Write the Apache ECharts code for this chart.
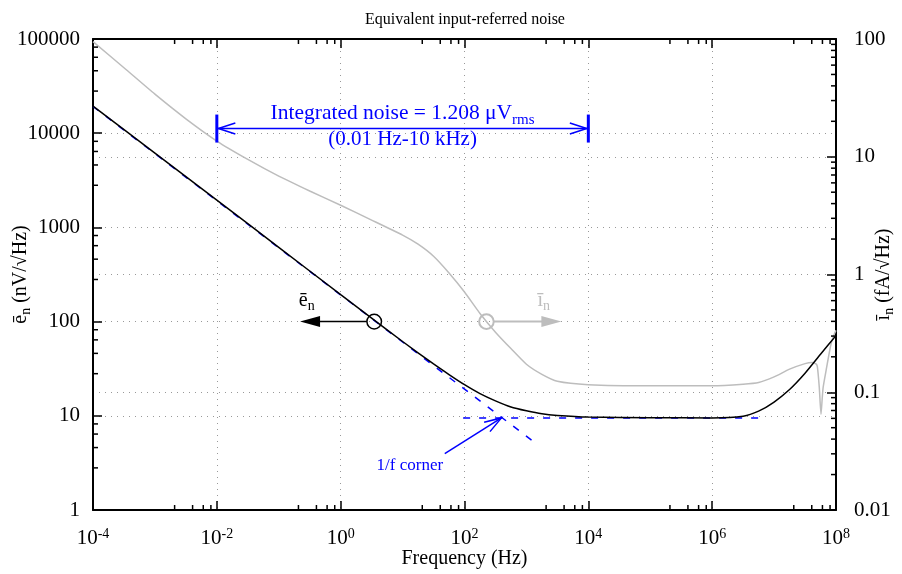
<!DOCTYPE html>
<html>
<head>
<meta charset="utf-8">
<script src="https://cdn.jsdelivr.net/npm/echarts@6/dist/echarts.min.js"></script>
<style>
  html, body { margin: 0; padding: 0; background: #fff; }
  #chart { width: 902px; height: 574px; }
</style>
</head>
<body>
<div id="chart"></div>
<script>
// ---- data ---------------------------------------------------------------
// voltage noise density e_n (nV/√Hz) versus frequency (Hz)
const enFreq = [1e-4, 1e-3, 1e-2, 1e-1, 1, 3.162, 10, 31.62, 56.23, 100, 177.8, 316.2, 562.3,
                1000, 1778, 3162, 1e4, 1e5, 1e6, 3.162e6, 5.623e6, 1e7, 1.778e7, 3.162e7, 5.623e7, 1e8];
const enValue = [19400, 6150, 1950, 615, 193, 109, 61.5, 35.5, 27.4, 21.4, 17.2, 14.4, 12.4,
                 11.3, 10.5, 10.1, 9.7, 9.55, 9.5, 9.9, 11.2, 14.0, 19.0, 28.3, 45, 71];

// current noise density i_n (fA/√Hz) versus frequency (Hz)
const inFreq = [1e-4, 3.162e-4, 1e-3, 3.162e-3, 1e-2, 3.162e-2, 0.1, 0.3162, 1, 3.162, 10, 17.78,
                31.62, 56.23, 100, 177.8, 316.2, 562.3, 1000, 1778, 3162, 1e4, 1e5, 1e6, 3.162e6,
                5.623e6, 1e7, 1.778e7, 3.162e7, 4.1e7, 4.75e7, 5.0e7, 5.37e7, 5.73e7, 6.0e7, 6.2e7,
                6.9e7, 8.3e7, 9.4e7, 1e8];
const inValue = [95, 57, 34, 21, 13.6, 9.5, 6.85, 5.12, 3.87, 2.9, 2.16, 1.81,
                 1.43, 1.03, 0.71, 0.467, 0.324, 0.235, 0.173, 0.142, 0.124, 0.116, 0.1135, 0.1135, 0.117,
                 0.121, 0.135, 0.157, 0.175, 0.179, 0.174, 0.165, 0.11, 0.065, 0.09, 0.11,
                 0.152, 0.257, 0.313, 0.335];

// asymptotes of e_n: 1/f region and white-noise floor
const flickerFreq = [1e-4, 1410];
const flickerValue = [19200, 5.11];
const floorFreq = [95, 7e6];
const floorValue = [9.5, 9.5];

// annotations (frequency in Hz, level on the e_n axis)
const bandRange = [0.01, 1e4];
const bandLevel = 11200;
const bandLabelFreq = 10;
const bandLabelLines = ['Integrated noise = 1.208 μV', 'rms', '(0.01 Hz-10 kHz)'];
const enMarker = [3.48, 100];
const enArrowTip = [0.221, 100];
const enLabelAt = [0.283, 155];
const inMarker = [226, 100];
const inArrowTip = [3670, 100];
const inLabelAt = [1900, 155];
const cornerPoint = [395, 9.5];
const cornerTail = [48, 3.97];
const cornerLabelAt = [13.1, 2.94];
const cornerLabel = '1/f corner';

// axis ranges and names
const xRange = [1e-4, 1e8];
const yLeftRange = [1, 1e5];
const yRightRange = [0.01, 100];
const titleText = 'Equivalent input-referred noise';
const xName = 'Frequency (Hz)';

// ---- tick helpers -------------------------------------------------------
function linearMinor(lo, hi, parts) {
  const out = [];
  const step = (hi - lo) / parts;
  for (let k = 1; k < parts; k++) out.push(lo + k * step);
  return out;
}
const xMinor = [];
for (let e = -4; e < 8; e += 2) xMinor.push(...linearMinor(Math.pow(10, e), Math.pow(10, e + 2), 5));
const yLeftMinor = [];
for (let e = 0; e < 5; e++) yLeftMinor.push(...linearMinor(Math.pow(10, e), Math.pow(10, e + 1), 5));
const yRightMinor = [];
for (let e = -2; e < 2; e++) for (let m = 2; m <= 9; m++) yRightMinor.push(m * Math.pow(10, e));

// ---- styling ------------------------------------------------------------
const FONT = '"Liberation Serif", "Times New Roman", Times, serif';
const BLUE = '#0000ff';
const GRAY = '#bdbdbd';
const zip = (a, b) => a.map((v, i) => [v, b[i]]);

const gridLine = { show: true, lineStyle: { color: '#999', width: 1, type: [1, 5] } };
const axisLine = { show: true, onZero: false, lineStyle: { color: '#000', width: 2 } };
const majorTick = { show: true, inside: true, length: 9, lineStyle: { color: '#000', width: 1.5 } };

function supLabel(v) {
  const e = Math.round(Math.log10(v));
  return '{b|10}{s|' + e + '}';
}
function plainLabel(v) {
  const e = Math.round(Math.log10(v));
  return e < 0 ? v.toFixed(-e) : String(Math.round(v));
}

// minor tick marks, placed through the axes' own log scales
function minorTicks(kind) {
  return function (params, api) {
    const cs = params.coordSys;
    const v = api.value(kind === 'x' ? 0 : 1);
    const lw = { stroke: '#000', lineWidth: 1.5 };
    const len = 5;
    if (kind === 'x') {
      const px = api.coord([v, 10])[0];
      return { type: 'group', children: [
        { type: 'line', shape: { x1: px, y1: cs.y + cs.height, x2: px, y2: cs.y + cs.height - len }, style: lw },
        { type: 'line', shape: { x1: px, y1: cs.y, x2: px, y2: cs.y + len }, style: lw }
      ]};
    }
    const py = api.coord([1, v])[1];
    if (kind === 'left') {
      return { type: 'line', shape: { x1: cs.x, y1: py, x2: cs.x + len, y2: py }, style: lw };
    }
    return { type: 'line', shape: { x1: cs.x + cs.width, y1: py, x2: cs.x + cs.width - len, y2: py }, style: lw };
  };
}

function arrowHeadOpen(tip, from, len, half, color) {
  const dx = tip[0] - from[0], dy = tip[1] - from[1];
  const d = Math.hypot(dx, dy), ux = dx / d, uy = dy / d;
  const bx = tip[0] - ux * len, by = tip[1] - uy * len;
  return { type: 'polyline', shape: { points: [[bx - uy * half, by + ux * half], tip, [bx + uy * half, by - ux * half]] },
           style: { stroke: color, lineWidth: 1.5, fill: null } };
}
function arrowHeadFilled(tip, from, len, half, color) {
  const dx = tip[0] - from[0], dy = tip[1] - from[1];
  const d = Math.hypot(dx, dy), ux = dx / d, uy = dy / d;
  const bx = tip[0] - ux * len, by = tip[1] - uy * len;
  return { type: 'polygon', shape: { points: [[bx - uy * half, by + ux * half], tip, [bx + uy * half, by - ux * half]] },
           style: { fill: color, stroke: null } };
}

function subText(x, y, base, sub, color, size, subSize) {
  return { type: 'text', style: {
    x: x, y: y, align: 'center', verticalAlign: 'middle', text: '{a|' + base + '}{n|' + sub + '}', fill: color,
    rich: {
      a: { fontFamily: FONT, fontSize: size, lineHeight: size, padding: [3, 0, 3, 0], verticalAlign: 'bottom', fill: color },
      n: { fontFamily: FONT, fontSize: subSize, lineHeight: subSize, verticalAlign: 'bottom', fill: color }
    }
  }};
}

function renderNotes(params, api) {
  const P = p => api.coord(p);
  const kids = [];

  // integrated-noise span with end bars
  const a = P([bandRange[0], bandLevel]), b = P([bandRange[1], bandLevel]);
  kids.push({ type: 'line', shape: { x1: a[0], y1: a[1], x2: b[0], y2: b[1] }, style: { stroke: BLUE, lineWidth: 1.5 } });
  kids.push({ type: 'rect', shape: { x: a[0] - 1.5, y: a[1] - 14, width: 3, height: 28 }, style: { fill: BLUE } });
  kids.push({ type: 'rect', shape: { x: b[0] - 1.5, y: b[1] - 14, width: 3, height: 28 }, style: { fill: BLUE } });
  kids.push(arrowHeadOpen([a[0] + 1.5, a[1]], b, 17, 5.5, BLUE));
  kids.push(arrowHeadOpen([b[0] - 1.5, b[1]], a, 17, 5.5, BLUE));
  const t = P([bandLabelFreq, bandLevel]);
  kids.push(subText(t[0], t[1] - 12, bandLabelLines[0], bandLabelLines[1], BLUE, 21.5, 15));
  kids.push({ type: 'text', style: {
    x: t[0], y: t[1] + 11, align: 'center', verticalAlign: 'middle', text: bandLabelLines[2],
    fill: BLUE, fontFamily: FONT, fontSize: 21
  }});

  // e_n read-out marker with arrow toward the left axis
  const ec = P(enMarker), et = P(enArrowTip);
  kids.push({ type: 'circle', shape: { cx: ec[0], cy: ec[1], r: 7.3 }, style: { stroke: '#000', lineWidth: 1.5, fill: null } });
  kids.push({ type: 'line', shape: { x1: ec[0] - 7.3, y1: ec[1], x2: et[0] + 12, y2: et[1] }, style: { stroke: '#000', lineWidth: 1.5 } });
  kids.push(arrowHeadFilled(et, ec, 20, 5.5, '#000'));
  const el = P(enLabelAt);
  kids.push(subText(el[0], el[1], 'ē', 'n', '#000', 20, 14));

  // i_n read-out marker with arrow toward the right axis
  const ic = P(inMarker), it = P(inArrowTip);
  kids.push({ type: 'circle', shape: { cx: ic[0], cy: ic[1], r: 7.3 }, style: { stroke: GRAY, lineWidth: 2, fill: null } });
  kids.push({ type: 'line', shape: { x1: ic[0] + 7.3, y1: ic[1], x2: it[0] - 12, y2: it[1] }, style: { stroke: GRAY, lineWidth: 2 } });
  kids.push(arrowHeadFilled(it, ic, 20, 5.5, GRAY));
  const il = P(inLabelAt);
  kids.push(subText(il[0], il[1], 'ī', 'n', GRAY, 20, 14));

  // 1/f corner pointer
  const cp = P(cornerPoint), ct = P(cornerTail);
  kids.push({ type: 'line', shape: { x1: ct[0], y1: ct[1], x2: cp[0], y2: cp[1] }, style: { stroke: BLUE, lineWidth: 1.5 } });
  kids.push(arrowHeadOpen(cp, ct, 17, 5.5, BLUE));
  const cl = P(cornerLabelAt);
  kids.push({ type: 'text', style: {
    x: cl[0], y: cl[1], align: 'center', verticalAlign: 'middle', text: cornerLabel,
    fill: BLUE, fontFamily: FONT, fontSize: 17
  }});

  return { type: 'group', children: kids };
}

// ---- chart --------------------------------------------------------------
const chart = echarts.init(document.getElementById('chart'), null, { renderer: 'canvas' });

const xCommon = {
  type: 'log', logBase: 10, min: xRange[0], max: xRange[1], interval: 2,
  axisLine: axisLine, axisTick: majorTick, minorTick: { show: false }
};
const yNameRich = {
  a: { fontFamily: FONT, fontSize: 20, lineHeight: 20, padding: [0, 0, 2, 0], verticalAlign: 'bottom', color: '#000' },
  n: { fontFamily: FONT, fontSize: 14, lineHeight: 14, verticalAlign: 'bottom', color: '#000' }
};

chart.setOption({
  animation: false,
  backgroundColor: '#fff',
  title: {
    text: titleText, left: 460, top: 7, textAlign: 'center',
    textStyle: { fontFamily: FONT, fontSize: 16, fontWeight: 'normal', color: '#000' }
  },
  grid: { left: 93, right: 66, top: 39, bottom: 64, containLabel: false, outerBoundsMode: 'none' },
  xAxis: [
    Object.assign({}, xCommon, {
      position: 'bottom',
      name: xName, nameLocation: 'middle', nameGap: 39, nameMoveOverlap: false,
      nameTextStyle: { fontFamily: FONT, fontSize: 20, color: '#000' },
      splitLine: gridLine,
      axisLabel: {
        margin: 18, color: '#000', formatter: supLabel,
        rich: {
          b: { fontFamily: FONT, fontSize: 21, lineHeight: 21, verticalAlign: 'bottom', color: '#000' },
          s: { fontFamily: FONT, fontSize: 14, lineHeight: 14, padding: [0, 0, 8, 0], verticalAlign: 'bottom', color: '#000' }
        }
      }
    }),
    Object.assign({}, xCommon, {
      position: 'top', axisLabel: { show: false }, splitLine: { show: false }
    })
  ],
  yAxis: [
    {
      type: 'log', logBase: 10, min: yLeftRange[0], max: yLeftRange[1], interval: 1, position: 'left',
      axisLine: axisLine, axisTick: majorTick, splitLine: gridLine,
      axisLabel: { margin: 13, color: '#000', fontFamily: FONT, fontSize: 21, formatter: plainLabel },
      name: '{a|ē}{n|n}{a| (nV/√Hz)}', nameLocation: 'middle', nameGap: 60, nameRotate: 90, nameMoveOverlap: false,
      nameTextStyle: { color: '#000', rich: yNameRich }
    },
    {
      type: 'log', logBase: 10, min: yRightRange[0], max: yRightRange[1], interval: 1, position: 'right',
      axisLine: axisLine, axisTick: majorTick, splitLine: gridLine,
      axisLabel: { margin: 18, color: '#000', fontFamily: FONT, fontSize: 21, formatter: plainLabel },
      name: '{a|ī}{n|n}{a| (fA/√Hz)}', nameLocation: 'middle', nameGap: 40, nameRotate: 90, nameMoveOverlap: false,
      nameTextStyle: { color: '#000', rich: yNameRich }
    }
  ],
  series: [
    {
      name: '1/f asymptote', type: 'line', xAxisIndex: 0, yAxisIndex: 0, data: zip(flickerFreq, flickerValue),
      symbol: 'none', silent: true, z: 2,
      lineStyle: { color: BLUE, width: 1.5, type: [7, 9] }
    },
    {
      name: 'white floor', type: 'line', xAxisIndex: 0, yAxisIndex: 0, data: zip(floorFreq, floorValue),
      symbol: 'none', silent: true, z: 2,
      lineStyle: { color: BLUE, width: 1.5, type: [7, 9] }
    },
    {
      name: 'i_n', type: 'line', xAxisIndex: 0, yAxisIndex: 1, data: zip(inFreq, inValue),
      symbol: 'none', smooth: 0.2, silent: true, z: 3,
      lineStyle: { color: GRAY, width: 1.5 }
    },
    {
      name: 'e_n', type: 'line', xAxisIndex: 0, yAxisIndex: 0, data: zip(enFreq, enValue),
      symbol: 'none', smooth: 0.2, silent: true, z: 4,
      lineStyle: { color: '#000', width: 1.5 }
    },
    {
      type: 'custom', xAxisIndex: 0, yAxisIndex: 0, data: xMinor.map(v => [v, 10]),
      renderItem: minorTicks('x'), silent: true, z: 6
    },
    {
      type: 'custom', xAxisIndex: 0, yAxisIndex: 0, data: yLeftMinor.map(v => [1, v]),
      renderItem: minorTicks('left'), silent: true, z: 6
    },
    {
      type: 'custom', xAxisIndex: 0, yAxisIndex: 1, data: yRightMinor.map(v => [1, v]),
      renderItem: minorTicks('right'), silent: true, z: 6
    },
    {
      type: 'custom', xAxisIndex: 0, yAxisIndex: 0, data: [[1, 1]],
      renderItem: renderNotes, silent: true, z: 7, clip: false
    }
  ]
});
</script>
</body>
</html>
